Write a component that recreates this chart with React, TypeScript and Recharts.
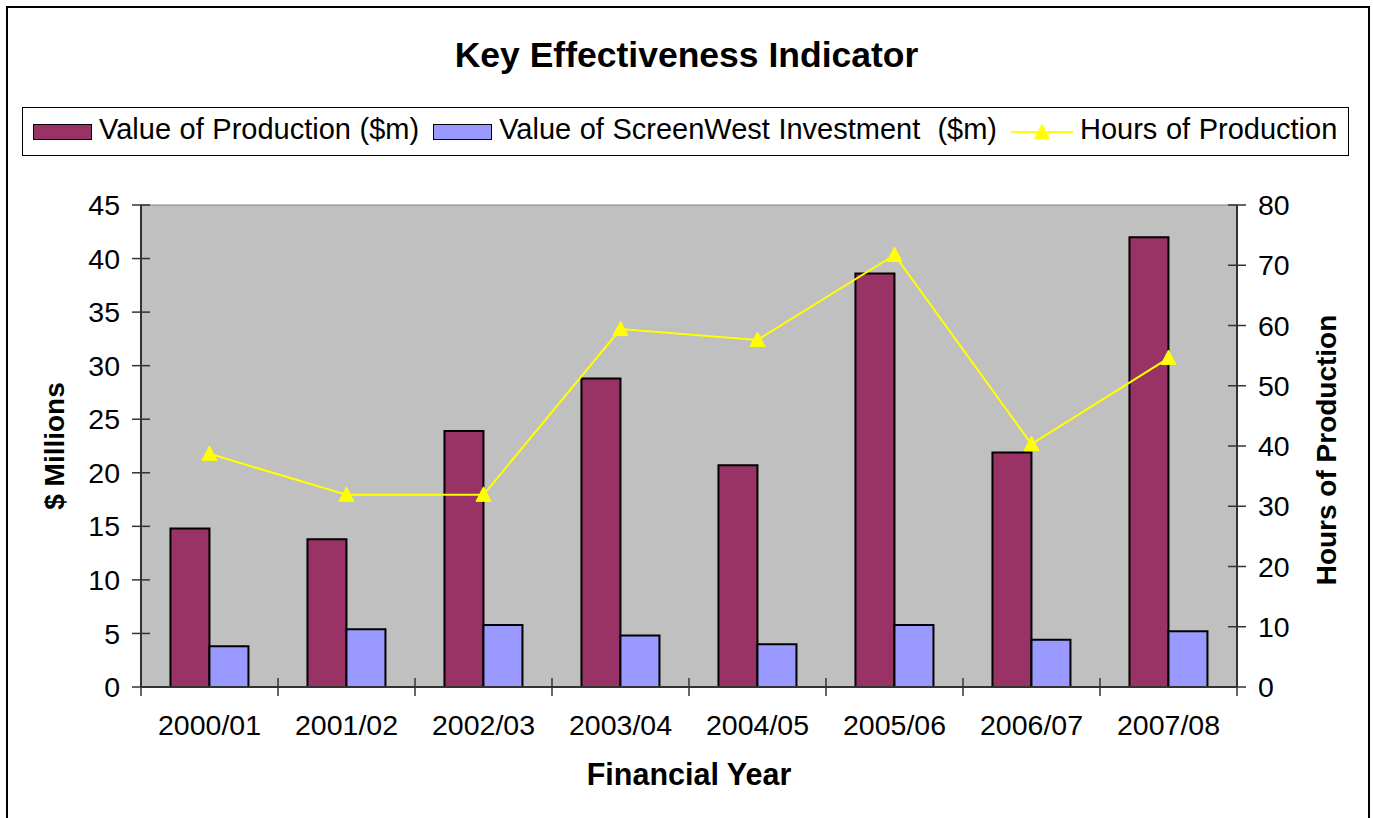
import { Bar, CartesianGrid, ComposedChart, Legend, Line, XAxis, YAxis } from "recharts";

const years = ["2000/01", "2001/02", "2002/03", "2003/04", "2004/05", "2005/06", "2006/07", "2007/08"];
const productionValue = [14.8, 13.8, 23.9, 28.8, 20.7, 38.6, 21.9, 42.0];
const screenWestInvestment = [3.8, 5.4, 5.8, 4.8, 4.0, 5.8, 4.4, 5.2];
const hoursOfProduction = [38.7, 31.9, 31.9, 59.4, 57.6, 71.7, 40.3, 54.6];
const millionTicks = [0, 5, 10, 15, 20, 25, 30, 35, 40, 45];
const hourTicks = [0, 10, 20, 30, 40, 50, 60, 70, 80];
const legendOrder = ["production", "investment", "hours"];

const data = years.map((year, i) => ({
  year,
  production: productionValue[i],
  investment: screenWestInvestment[i],
  hours: hoursOfProduction[i],
}));

const FONT = '"Liberation Sans", Arial, sans-serif';
const TICK = 9;
const AXIS = "#333";

function Triangle({ cx, cy }: { cx: number; cy: number }) {
  return (
    <polygon
      points={`${cx},${cy - 8} ${cx - 7.5},${cy + 6.5} ${cx + 7.5},${cy + 6.5}`}
      fill="#FFFF00"
      stroke="#FFFF00"
    />
  );
}

function LeftTick(props: any) {
  const { x, y, payload } = props;
  const ax = x + TICK + 12;
  return (
    <g>
      <line x1={ax - TICK} x2={ax + TICK} y1={y} y2={y} stroke={AXIS} strokeWidth={1.5} />
      <text x={x} y={y} dy="0.355em" textAnchor="end" fontSize={28.5} fill="#000">
        {payload.value}
      </text>
    </g>
  );
}

function RightTick(props: any) {
  const { x, y, payload } = props;
  const ax = x - TICK - 12;
  return (
    <g>
      <line x1={ax - TICK} x2={ax + TICK} y1={y} y2={y} stroke={AXIS} strokeWidth={1.5} />
      <text x={x} y={y} dy="0.355em" textAnchor="start" fontSize={28.5} fill="#000">
        {payload.value}
      </text>
    </g>
  );
}

function BottomTick(props: any) {
  const { x, y, payload, index, width, visibleTicksCount } = props;
  const ay = y - TICK - 19;
  const half =
    typeof payload.offset === "number" && payload.offset > 0
      ? payload.offset
      : width / visibleTicksCount / 2;
  return (
    <g>
      <line x1={x - half} x2={x - half} y1={ay - TICK} y2={ay + TICK} stroke={AXIS} strokeWidth={1.5} />
      {index === visibleTicksCount - 1 && (
        <line x1={x + half} x2={x + half} y1={ay - TICK} y2={ay + TICK} stroke={AXIS} strokeWidth={1.5} />
      )}
      <text x={x} y={y} dy="0.71em" textAnchor="middle" fontSize={28.5} fill="#000">
        {payload.value}
      </text>
    </g>
  );
}

function Header(props: any) {
  const items = [...(props.payload || [])].sort(
    (a: any, b: any) => legendOrder.indexOf(a.dataKey) - legendOrder.indexOf(b.dataKey)
  );
  return (
    <div style={{ position: "relative", width: 1373, height: 205, fontFamily: FONT }}>
      <div
        style={{
          position: "absolute",
          top: 38,
          left: 0,
          width: "100%",
          textAlign: "center",
          fontSize: 35.5,
          lineHeight: "35px",
          fontWeight: "bold",
        }}
      >
        Key Effectiveness Indicator
      </div>
      <div
        style={{
          position: "absolute",
          left: 22,
          top: 107,
          width: 1327,
          height: 49,
          boxSizing: "border-box",
          border: "1px solid #000",
          display: "flex",
          alignItems: "center",
          paddingLeft: 10,
          gap: 14,
        }}
      >
        {items.map((item: any) => (
          <div key={item.value} style={{ display: "flex", alignItems: "center", gap: 7 }}>
            {item.type === "line" ? (
              <svg width={62} height={18}>
                <line x1={0} x2={62} y1={9} y2={9} stroke="#FFFF00" strokeWidth={2} />
                <Triangle cx={31} cy={9.5} />
              </svg>
            ) : (
              <div
                style={{
                  width: 59,
                  height: 16,
                  boxSizing: "border-box",
                  background: item.color,
                  border: "1.5px solid #000",
                }}
              />
            )}
            <span
              style={{
                fontSize: 29,
                lineHeight: "28px",
                whiteSpace: "pre",
                wordSpacing: 0.5,
                position: "relative",
                top: -3,
                color: "#000",
              }}
            >
              {item.value}
            </span>
          </div>
        ))}
      </div>
    </div>
  );
}

export default function App() {
  return (
    <div
      style={{
        position: "absolute",
        left: 0,
        top: 0,
        width: 1373,
        height: 818,
        overflow: "hidden",
        background: "#fff",
        fontFamily: FONT,
      }}
    >
      <ComposedChart
        width={1373}
        height={818}
        data={data}
        margin={{ top: 0, right: 0, bottom: 0, left: 0 }}
        barCategoryGap="21.5%"
        barGap={0}
      >
        <Legend verticalAlign="top" align="left" content={<Header />} />
        <CartesianGrid
          fill="#C0C0C0"
          stroke="#808080"
          vertical={false}
          horizontalCoordinatesGenerator={({ offset }: any) => [offset.top]}
        />
        <XAxis
          dataKey="year"
          height={131}
          tickSize={TICK}
          tickMargin={19}
          tickLine={false}
          axisLine={{ stroke: AXIS, strokeWidth: 2 }}
          tick={<BottomTick />}
          interval={0}
          label={{
            value: "Financial Year",
            position: "center",
            dy: 22,
            fontSize: 30.5,
            fontWeight: "bold",
            fill: "#000",
          }}
        />
        <YAxis
          yAxisId="left"
          orientation="left"
          width={141}
          domain={[0, 45]}
          ticks={millionTicks}
          interval={0}
          tickSize={TICK}
          tickMargin={12}
          tickLine={false}
          axisLine={{ stroke: AXIS, strokeWidth: 2 }}
          tick={<LeftTick />}
          label={{
            value: "$ Millions",
            angle: -90,
            position: "center",
            dx: -16,
            fontSize: 28,
            fontWeight: "bold",
            fill: "#000",
          }}
        />
        <YAxis
          yAxisId="right"
          orientation="right"
          width={136}
          domain={[0, 80]}
          ticks={hourTicks}
          interval={0}
          tickSize={TICK}
          tickMargin={12}
          tickLine={false}
          axisLine={{ stroke: AXIS, strokeWidth: 2 }}
          tick={<RightTick />}
          label={{
            value: "Hours of Production",
            angle: -90,
            position: "center",
            dx: 21,
            dy: 4,
            fontSize: 28,
            fontWeight: "bold",
            fill: "#000",
          }}
        />
        <Bar
          yAxisId="left"
          dataKey="production"
          name="Value of Production ($m)"
          fill="#993366"
          stroke="#000"
          strokeWidth={2}
          isAnimationActive={false}
        />
        <Bar
          yAxisId="left"
          dataKey="investment"
          name="Value of ScreenWest Investment  ($m)"
          fill="#9999FF"
          stroke="#000"
          strokeWidth={2}
          isAnimationActive={false}
        />
        <Line
          yAxisId="right"
          type="linear"
          dataKey="hours"
          name="Hours of Production"
          stroke="#FFFF00"
          strokeWidth={2}
          dot={(p: any) => <Triangle key={p.index} cx={p.cx} cy={p.cy} />}
          activeDot={false}
          legendType="line"
          isAnimationActive={false}
        />
      </ComposedChart>
      <div
        style={{
          position: "absolute",
          left: 6,
          top: 6,
          width: 1364,
          height: 900,
          boxSizing: "border-box",
          border: "2px solid #000",
          pointerEvents: "none",
        }}
      />
    </div>
  );
}
